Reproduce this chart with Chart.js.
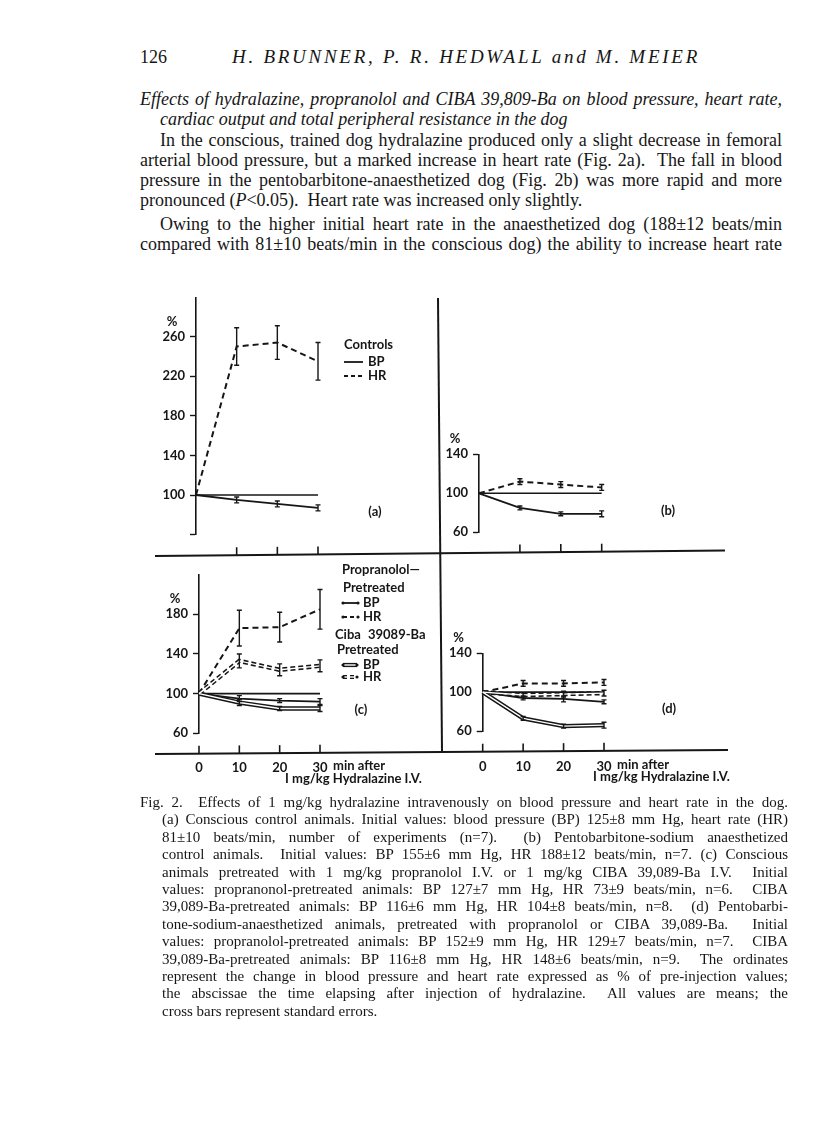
<!DOCTYPE html>
<html>
<head>
<meta charset="utf-8">
<title>Fig. 2 - hydralazine, blood pressure and heart rate</title>
<script src="https://cdn.jsdelivr.net/npm/chart.js@4.4.1/dist/chart.umd.min.js"></script>
<style>
  html, body { margin: 0; padding: 0; background: #fff; }
  #page { position: relative; width: 816px; height: 1122px; overflow: hidden; background: #fff; color: #161616; }
  .t { position: absolute; white-space: nowrap; font-family: "Liberation Serif", "DejaVu Serif", serif; }
  .b { font-size: 18px; line-height: 20px; }
  .h { font-size: 19px; line-height: 20px; }
  .c { font-size: 15px; line-height: 17px; }
  .i { font-style: italic; }
  .j { text-align: justify; text-align-last: justify; }
  canvas.fig { position: absolute; left: 0; top: 240px; width: 816px; height: 580px; }
</style>
</head>
<body>
<div id="page">
  <div class="t b" style="left:140px;top:47px">126</div>
  <div class="t h i fit" data-w="468" style="left:232px;top:47px">H. BRUNNER, P. R. HEDWALL and M. MEIER</div>

  <div class="t b i j" style="left:140px;top:89px;width:642px">Effects of hydralazine, propranolol and CIBA 39,809-Ba on blood pressure, heart rate,</div>
  <div class="t b i" style="left:160px;top:109px">cardiac output and total peripheral resistance in the dog</div>

  <div class="t b j" style="left:160px;top:130px;width:622px">In the conscious, trained dog hydralazine produced only a slight decrease in femoral</div>
  <div class="t b j" style="left:140px;top:150px;width:642px">arterial blood pressure, but a marked increase in heart rate (Fig. 2a).&nbsp; The fall in blood</div>
  <div class="t b j" style="left:140px;top:170px;width:642px">pressure in the pentobarbitone-anaesthetized dog (Fig. 2b) was more rapid and more</div>
  <div class="t b" style="left:140px;top:190px">pronounced (<i>P</i>&lt;0.05).&nbsp; Heart rate was increased only slightly.</div>
  <div class="t b j" style="left:160px;top:214px;width:622px">Owing to the higher initial heart rate in the anaesthetized dog (188±12 beats/min</div>
  <div class="t b j" style="left:140px;top:234px;width:642px">compared with 81±10 beats/min in the conscious dog) the ability to increase heart rate</div>

  <canvas class="fig" id="pa" width="816" height="580"></canvas>
  <canvas class="fig" id="pb" width="816" height="580"></canvas>
  <canvas class="fig" id="pc" width="816" height="580"></canvas>
  <canvas class="fig" id="pd" width="816" height="580"></canvas>

  <div class="t c j" style="left:140px;top:794px;width:648px">Fig. 2.&nbsp; Effects of 1 mg/kg hydralazine intravenously on blood pressure and heart rate in the dog.</div>
  <div class="t c j" style="left:162px;top:811px;width:626px">(a) Conscious control animals. Initial values: blood pressure (BP) 125±8 mm Hg, heart rate (HR)</div>
  <div class="t c j" style="left:162px;top:829px;width:626px">81±10 beats/min, number of experiments (n=7).&nbsp; (b) Pentobarbitone-sodium anaesthetized</div>
  <div class="t c j" style="left:162px;top:846px;width:626px">control animals.&nbsp; Initial values: BP 155±6 mm Hg, HR 188±12 beats/min, n=7. (c) Conscious</div>
  <div class="t c j" style="left:162px;top:864px;width:626px">animals pretreated with 1 mg/kg propranolol I.V. or 1 mg/kg CIBA 39,089-Ba I.V.&nbsp; Initial</div>
  <div class="t c j" style="left:162px;top:881px;width:626px">values: propranonol-pretreated animals: BP 127±7 mm Hg, HR 73±9 beats/min, n=6.&nbsp; CIBA</div>
  <div class="t c j" style="left:162px;top:898px;width:626px">39,089-Ba-pretreated animals: BP 116±6 mm Hg, HR 104±8 beats/min, n=8.&nbsp; (d) Pentobarbi-</div>
  <div class="t c j" style="left:162px;top:916px;width:626px">tone-sodium-anaesthetized animals, pretreated with propranolol or CIBA 39,089-Ba.&nbsp; Initial</div>
  <div class="t c j" style="left:162px;top:933px;width:626px">values: propranolol-pretreated animals: BP 152±9 mm Hg, HR 129±7 beats/min, n=7.&nbsp; CIBA</div>
  <div class="t c j" style="left:162px;top:951px;width:626px">39,089-Ba-pretreated animals: BP 116±8 mm Hg, HR 148±6 beats/min, n=9.&nbsp; The ordinates</div>
  <div class="t c j" style="left:162px;top:968px;width:626px">represent the change in blood pressure and heart rate expressed as % of pre-injection values;</div>
  <div class="t c j" style="left:162px;top:985px;width:626px">the abscissae the time elapsing after injection of hydralazine.&nbsp; All values are means; the</div>
  <div class="t c" style="left:162px;top:1003px">cross bars represent standard errors.</div>
</div>

<script>
// ==================== DATA ====================
// minutes after 1 mg/kg hydralazine I.V.
const times = [0, 10, 20, 30];
const xTickLabels = ['0', '10', '20', '30'];
// horizontal 100 % reference line
const refTimes = [0, 30];
const refVals = [100, 100];

// (a) conscious controls
const aHR = [100, 250, 254, 235];
const aHRErr = [0, 19, 17, 19];
const aBP = [100, 95, 91, 87];
const aBPErr = [0, 3, 3, 3];
const aYTicks = [60, 100, 140, 180, 220, 260];
const aYLabels = ['', '100', '140', '180', '220', '260'];

// (b) pentobarbitone-anaesthetized controls
const bHR = [100, 112, 109, 106];
const bHRErr = [0, 3, 3, 3];
const bBP = [100, 85, 79, 79];
const bBPErr = [0, 2, 2, 3];
const bYTicks = [60, 100, 140];
const bYLabels = ['60', '100', '140'];

// (c) conscious, pretreated
const cPropHR = [100, 166, 167, 185];
const cPropHRErr = [0, 18, 15, 20];
const cPropBP = [100, 95, 93, 92];
const cPropBPErr = [0, 3, 2, 3];
const cCibaHR = [100, 133, 124, 128];
const cCibaHRErr = [0, 7, 6, 6];
const cCibaBP = [100, 91, 85, 85];
const cCibaBPErr = [0, 3, 2, 3];
const cYTicks = [60, 100, 140, 180];
const cYLabels = ['60', '100', '140', '180'];

// (d) anaesthetized, pretreated
const dPropHR = [100, 109, 109, 110];
const dPropHRErr = [0, 3, 3, 3];
const dPropBP = [100, 94, 93, 90];
const dPropBPErr = [0, 2, 3, 2];
const dCibaHR = [100, 97, 98, 99];
const dCibaHRErr = [0, 2, 3, 3];
const dCibaBP = [100, 73, 65, 66];
const dCibaBPErr = [0, 2, 2, 3];
const dYTicks = [60, 100, 140];
const dYLabels = ['60', '100', '140'];

// ==================== STYLE ====================
const INK = '#161616';
const FIG_TOP = 240;            // page y of the canvases
const X_AXIS_H = 45;            // room kept under the plot for the time labels
const FONT = 'bold 13px Lato, "Open Sans", sans-serif';
const tickFont = { family: 'Lato, "Open Sans", sans-serif', size: 13, weight: 'bold' };

const pts = (xs, ys) => xs.map((x, i) => ({ x, y: ys[i] }));

function solid(vals, errs) {
    return { data: pts(times, vals), errs, borderColor: INK, borderWidth: 1.8, clip: false, order: 1 };
}
function dashed(vals, errs) {
    return { data: pts(times, vals), errs, borderColor: INK, borderWidth: 2, borderDash: [6, 4], clip: false, order: 1 };
}
function doubled(vals, errs, dash) {
    return [
        { data: pts(times, vals), errs, borderColor: INK, borderWidth: 4.4, borderDash: dash || [], clip: false, order: 2 },
        { data: pts(times, vals), borderColor: '#fff', borderWidth: 1.4, clip: false, order: 0 }
    ];
}
function refLine() {
    return { data: pts(refTimes, refVals), borderColor: INK, borderWidth: 1.6, clip: false, order: 1 };
}

// decorations per panel, in page pixels
const topLine = [155, 556, 725, 550.5];
const bottomLine = [155, 754, 728, 750];
const panelDecor = {
    pa: {
        frame: [[438, 298, 442, 752], topLine, bottomLine],
        base: topLine, xMarks: [10, 20, 30],
        texts: [
            { t: 'Controls', x: 344, y: 345 },
            { t: 'BP', x: 368, y: 362 }, { t: 'HR', x: 368, y: 376 },
            { t: '(a)', x: 375, y: 512, align: 'center' }
        ],
        samples: [{ s: 'solid', x1: 344, x2: 363, y: 362 }, { s: 'dashed', x1: 344, x2: 363, y: 376 }]
    },
    pb: {
        base: topLine, xMarks: [10, 20, 30],
        texts: [{ t: '(b)', x: 668, y: 511, align: 'center' }],
        samples: []
    },
    pc: {
        base: bottomLine, xMarks: [0, 10, 20, 30],
        texts: [
            { t: 'Propranolol\u2014', x: 342, y: 570 },
            { t: 'Pretreated', x: 343, y: 588 },
            { t: 'BP', x: 363, y: 603 }, { t: 'HR', x: 363, y: 617 },
            { t: 'Ciba', x: 335, y: 635 }, { t: '39089-Ba', x: 368, y: 635 },
            { t: 'Pretreated', x: 337, y: 650 },
            { t: 'BP', x: 363, y: 665 }, { t: 'HR', x: 363, y: 677 },
            { t: '(c)', x: 361, y: 710, align: 'center' },
            { t: 'min after', x: 333, y: 766 },
            { t: 'I mg/kg Hydralazine I.V.', x: 285, y: 779 }
        ],
        samples: [
            { s: 'solid', x1: 343, x2: 358, y: 603, dots: true },
            { s: 'dashed', x1: 343, x2: 358, y: 617, dots: true },
            { s: 'double', x1: 343, x2: 357, y: 665, dots: true },
            { s: 'doubleDashed', x1: 343, x2: 357, y: 677, dots: true }
        ]
    },
    pd: {
        base: bottomLine, xMarks: [0, 10, 20, 30],
        texts: [
            { t: '(d)', x: 669, y: 709, align: 'center' },
            { t: 'min after', x: 617, y: 765 },
            { t: 'I mg/kg Hydralazine I.V.', x: 593, y: 777 }
        ],
        samples: []
    }
};

function drawSample(ctx, s) {
    const y = s.y - FIG_TOP;
    const seg = (lw, color, dash) => {
        ctx.save();
        ctx.lineWidth = lw; ctx.strokeStyle = color; ctx.setLineDash(dash);
        ctx.beginPath(); ctx.moveTo(s.x1, y); ctx.lineTo(s.x2, y); ctx.stroke();
        ctx.restore();
    };
    if (s.s === 'solid') seg(1.8, INK, []);
    if (s.s === 'dashed') seg(2, INK, [4, 3]);
    if (s.s === 'double') { seg(4.2, INK, []); seg(1.4, '#fff', []); }
    if (s.s === 'doubleDashed') { seg(4.2, INK, [4, 3]); seg(1.4, '#fff', []); }
    if (s.dots) {
        ctx.beginPath(); ctx.arc(s.x1, y, 1.6, 0, Math.PI * 2); ctx.arc(s.x2, y, 1.6, 0, Math.PI * 2); ctx.fill();
    }
}

const decorPlugin = {
    id: 'decor',
    afterDatasetsDraw(chart) {
        const o = panelDecor[chart.canvas.id];
        if (!o) return;
        const ctx = chart.ctx, xs = chart.scales.x, ys = chart.scales.y;
        ctx.save();
        ctx.strokeStyle = INK; ctx.fillStyle = INK;

        // error bars
        chart.data.datasets.forEach(ds => {
            if (!ds.errs) return;
            ds.data.forEach((p, i) => {
                const e = ds.errs[i];
                if (!e) return;
                const x = xs.getPixelForValue(p.x);
                const y1 = ys.getPixelForValue(p.y + e), y2 = ys.getPixelForValue(p.y - e);
                ctx.lineWidth = 1.4;
                ctx.beginPath();
                ctx.moveTo(x, y1); ctx.lineTo(x, y2);
                ctx.moveTo(x - 2.5, y1); ctx.lineTo(x + 2.5, y1);
                ctx.moveTo(x - 2.5, y2); ctx.lineTo(x + 2.5, y2);
                ctx.stroke();
            });
        });

        // frame lines
        ctx.lineWidth = 2;
        (o.frame || []).forEach(f => {
            ctx.beginPath(); ctx.moveTo(f[0], f[1] - FIG_TOP); ctx.lineTo(f[2], f[3] - FIG_TOP); ctx.stroke();
        });

        // x tick marks standing on the base line
        const b = o.base;
        ctx.lineWidth = 1.6;
        o.xMarks.forEach(v => {
            const x = xs.getPixelForValue(v);
            const yb = b[1] + (b[3] - b[1]) * (x - b[0]) / (b[2] - b[0]) - FIG_TOP;
            ctx.beginPath(); ctx.moveTo(x, yb); ctx.lineTo(x, yb - 8); ctx.stroke();
        });

        // "%" over the ordinate
        ctx.font = FONT; ctx.textBaseline = 'middle'; ctx.textAlign = 'center';
        const labelled = ys.ticks.filter((t, i) => ys.options.ticks.callback(t.value, i) !== '');
        const topTick = labelled[labelled.length - 1].value;
        ctx.fillText('%', xs.getPixelForValue(0) - 24, ys.getPixelForValue(topTick) - 15);

        // legend samples and texts
        o.samples.forEach(s => drawSample(ctx, s));
        o.texts.forEach(t => {
            ctx.textAlign = t.align || 'left';
            ctx.fillText(t.t, t.x, t.y - FIG_TOP);
        });
        ctx.restore();
    }
};
Chart.register(decorPlugin);

function makePanel(id, p) {
    return new Chart(document.getElementById(id), {
        type: 'line',
        data: { datasets: p.datasets },
        options: {
            responsive: false,
            animation: false,
            events: [],
            layout: { padding: p.padding },
            elements: { point: { radius: 0 }, line: { tension: 0, fill: false, borderCapStyle: 'butt' } },
            plugins: { legend: { display: false }, tooltip: { enabled: false } },
            scales: {
                x: {
                    type: 'linear', min: 0, max: 30,
                    display: p.xLabels,
                    afterBuildTicks: s => { s.ticks = times.map(v => ({ value: v })); },
                    afterFit: s => { s.height = p.xLabels ? X_AXIS_H : 0; },
                    border: { display: false },
                    grid: { display: false },
                    ticks: { padding: p.xPad || 0, color: INK, font: tickFont, maxRotation: 0, autoSkip: false, callback: (v, i) => xTickLabels[i] }
                },
                y: {
                    type: 'linear', min: p.yMin, max: p.yMax,
                    afterBuildTicks: s => { s.ticks = p.yTicks.map(v => ({ value: v })); },
                    afterFit: s => { s.width = 40; },
                    border: { display: true, color: INK, width: 1.6 },
                    grid: {
                        drawOnChartArea: false, drawTicks: true, tickLength: 6, tickWidth: 1.4,
                        tickColor: c => (c.tick && p.yMarks.includes(c.tick.value)) ? INK : 'rgba(0,0,0,0)'
                    },
                    ticks: { padding: 5, color: INK, font: tickFont, autoSkip: false, callback: (v, i) => p.yLabels[i] }
                }
            }
        }
    });
}

// ==================== CHARTS ====================
makePanel('pa', {
    datasets: [refLine(), solid(aBP, aBPErr), dashed(aHR, aHRErr)],
    padding: { left: 156, right: 498, top: 58, bottom: 285.4 },
    yMin: 60, yMax: 299, yTicks: aYTicks, yLabels: aYLabels, yMarks: aYTicks,
    xLabels: false
});

makePanel('pb', {
    datasets: [refLine(), solid(bBP, bBPErr), dashed(bHR, bHRErr)],
    padding: { left: 439, right: 214.3, top: 214.3, bottom: 287.7 },
    yMin: 60, yMax: 140, yTicks: bYTicks, yLabels: bYLabels, yMarks: [60, 140],
    xLabels: false
});

makePanel('pc', {
    datasets: [refLine(), solid(cPropBP, cPropBPErr), dashed(cPropHR, cPropHRErr),
        ...doubled(cCibaBP, cCibaBPErr), ...doubled(cCibaHR, cCibaHRErr, [5, 3])],
    padding: { left: 159, right: 496, top: 334.6, bottom: 86.7 - X_AXIS_H },
    yMin: 60, yMax: 220, yTicks: cYTicks, yLabels: cYLabels, yMarks: cYTicks,
    xLabels: true, xPad: 19
});

makePanel('pd', {
    datasets: [refLine(), solid(dPropBP, dPropBPErr), dashed(dPropHR, dPropHRErr),
        ...doubled(dCibaBP, dCibaBPErr), ...doubled(dCibaHR, dCibaHRErr, [5, 3])],
    padding: { left: 442.7, right: 212, top: 413.3, bottom: 89 - X_AXIS_H },
    yMin: 60, yMax: 140, yTicks: dYTicks, yLabels: dYLabels, yMarks: [60, 140],
    xLabels: true, xPad: 20
});

// ==================== TEXT FITTING ====================
function naturalWidth(el) {
    const r = document.createRange();
    r.selectNodeContents(el);
    return r.getBoundingClientRect().width;
}
// justified lines stay on one line: squeeze letters if the natural width is too wide
document.querySelectorAll('.j').forEach(el => {
    el.style.textAlignLast = 'left';
    const w = naturalWidth(el), target = el.clientWidth;
    if (w > target) el.style.letterSpacing = ((target - w) / el.textContent.length) + 'px';
    el.style.textAlignLast = '';
});
// spaced running head
document.querySelectorAll('.fit').forEach(el => {
    const w = naturalWidth(el), target = +el.dataset.w;
    el.style.letterSpacing = ((target - w) / el.textContent.length) + 'px';
});
</script>
</body>
</html>
